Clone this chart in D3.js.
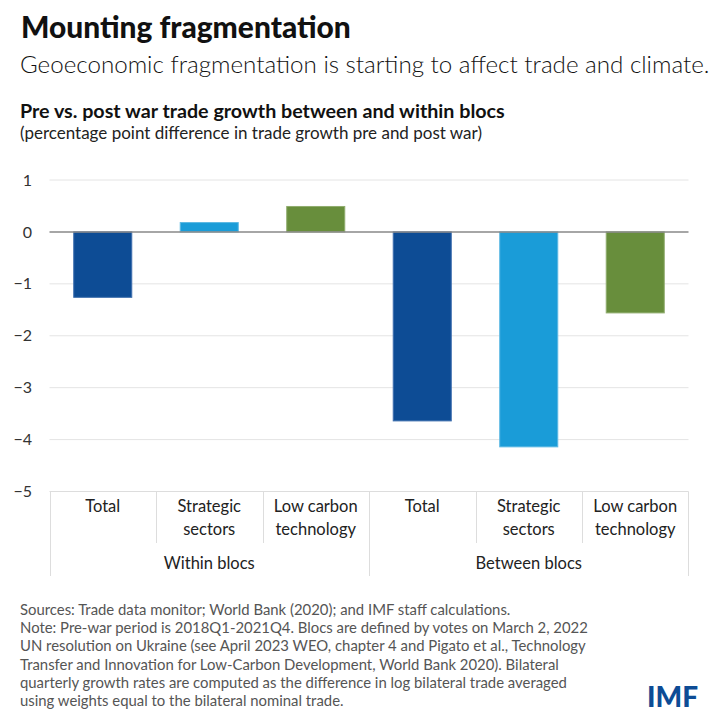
<!DOCTYPE html>
<html>
<head>
<meta charset="utf-8">
<script src="https://cdn.jsdelivr.net/npm/d3@7/dist/d3.min.js"></script>
<style>
  html, body { margin: 0; padding: 0; background: #fff; }
  svg { display: block; }
  text { font-family: Lato, "Open Sans", sans-serif; }
</style>
</head>
<body>
<svg id="chart" width="720" height="722"></svg>
<script>
// ---- data ----
const groups = ["Within blocs", "Between blocs"];
const categories = ["Total", "Strategic sectors", "Low carbon technology"];
const categoryLines = [["Total"], ["Strategic", "sectors"], ["Low carbon", "technology"]];
const withinValues = [-1.26, 0.18, 0.49];
const betweenValues = [-3.64, -4.14, -1.56];
const yTicks = [1, 0, -1, -2, -3, -4, -5];
const colors = ["#0d4c95", "#1a9cd8", "#688e3c"];
const strokeColors = ["#3f6fae", "#5cb8e3", "#90ad6e"];

const title = "Mounting fragmentation";
const subtitle = "Geoeconomic fragmentation is starting to affect trade and climate.";
const chartTitle = "Pre vs. post war trade growth between and within blocs";
const chartSubtitle = "(percentage point difference in trade growth pre and post war)";
const notes = [
  "Sources: Trade data monitor; World Bank (2020); and IMF staff calculations.",
  "Note: Pre-war period is 2018Q1-2021Q4. Blocs are defined by votes on March 2, 2022",
  "UN resolution on Ukraine (see April 2023 WEO, chapter 4 and Pigato et al., Technology",
  "Transfer and Innovation for Low-Carbon Development, World Bank 2020). Bilateral",
  "quarterly growth rates are computed as the difference in log bilateral trade averaged",
  "using weights equal to the bilateral nominal trade."
];

const rows = [];
groups.forEach((g, gi) => {
  const vals = gi === 0 ? withinValues : betweenValues;
  categories.forEach((c, ci) => rows.push({ key: g + "|" + c, group: g, cat: c, ci, value: vals[ci] }));
});

const svg = d3.select("#chart");

// fit text to a target width by adjusting font size
function fit(sel, target) {
  const node = sel.node();
  const w = node.getComputedTextLength();
  const fs = parseFloat(sel.attr("font-size"));
  sel.attr("font-size", (fs * target / w).toFixed(2));
  return sel;
}

// ---- titles ----
fit(svg.append("text").attr("x", 21).attr("y", 38).attr("font-size", 26).attr("font-weight", 900)
  .attr("fill", "#111").text(title), 330);
fit(svg.append("text").attr("x", 20).attr("y", 73).attr("font-size", 21).attr("font-weight", 300)
  .attr("fill", "#111").text(subtitle), 690);
fit(svg.append("text").attr("x", 20).attr("y", 118).attr("font-size", 17).attr("font-weight", 700)
  .attr("fill", "#111").text(chartTitle), 485);
fit(svg.append("text").attr("x", 20).attr("y", 139).attr("font-size", 14).attr("font-weight", 400)
  .attr("fill", "#222").text(chartSubtitle), 462);

// ---- scales ----
const x = d3.scaleBand().domain(rows.map(d => d.key)).range([49.5, 688.5]).paddingInner(0).paddingOuter(0);
const y = d3.scaleLinear().domain([-5, 1]).range([491.5, 180]);

// gridlines
svg.append("g").selectAll("line").data(yTicks.filter(t => t !== 0 && t !== -5)).join("line")
  .attr("x1", 49.5).attr("x2", 688.5)
  .attr("y1", d => y(d)).attr("y2", d => y(d))
  .attr("stroke", "#e4e4e4").attr("stroke-width", 1);

// y axis labels
const yAxis = d3.axisLeft(y).tickValues(yTicks).tickSize(0).tickPadding(0).tickFormat(d3.format("d"));
const yg = svg.append("g").attr("transform", "translate(32,0)").call(yAxis);
yg.select(".domain").remove();
yg.selectAll("text").attr("font-size", 16).attr("fill", "#333").attr("font-family", "Lato, sans-serif")
  .attr("dy", "0.32em").attr("dx", 0);

// bars
const bw = x.bandwidth() * 0.545;
svg.append("g").selectAll("rect").data(rows).join("rect")
  .attr("x", d => x(d.key) + (x.bandwidth() - bw) / 2)
  .attr("width", bw)
  .attr("y", d => y(Math.max(0, d.value)))
  .attr("height", d => Math.abs(y(d.value) - y(0)))
  .attr("fill", d => colors[d.ci])
  .attr("stroke", d => strokeColors[d.ci]).attr("stroke-width", 1);

// zero line
svg.append("line").attr("x1", 49.5).attr("x2", 688.5).attr("y1", y(0)).attr("y2", y(0))
  .attr("stroke", "#888").attr("stroke-width", 1.5);

// ---- multi-level category axis ----
const axisTop = y(-5);
const ax = svg.append("g");
ax.append("line").attr("x1", 49.5).attr("x2", 688.5).attr("y1", axisTop).attr("y2", axisTop)
  .attr("stroke", "#ddd");
rows.forEach(d => {
  const xl = x(d.key);
  const isGroupEdge = d.ci === 0;
  ax.append("line").attr("x1", Math.round(xl) + 0.5).attr("x2", Math.round(xl) + 0.5)
    .attr("y1", axisTop).attr("y2", isGroupEdge ? 576 : 543).attr("stroke", "#ddd");
});
ax.append("line").attr("x1", 688.5).attr("x2", 688.5).attr("y1", axisTop).attr("y2", 576).attr("stroke", "#ddd");

// category labels
rows.forEach(d => {
  const cx = x(d.key) + x.bandwidth() / 2;
  const t = ax.append("text").attr("text-anchor", "middle").attr("font-size", 16.5).attr("fill", "#222");
  categoryLines[d.ci].forEach((ln, li) => {
    t.append("tspan").attr("x", cx).attr("y", 512 + li * 23).text(ln);
  });
});
// group labels
groups.forEach(g => {
  const first = x(g + "|" + categories[0]);
  const last = x(g + "|" + categories[2]) + x.bandwidth();
  ax.append("text").attr("x", (first + last) / 2).attr("y", 569).attr("text-anchor", "middle")
    .attr("font-size", 16.5).attr("fill", "#222").text(g);
});

// ---- notes ----
const nt = svg.append("g");
notes.forEach((n, i) => {
  nt.append("text").attr("x", 20).attr("y", 615 + i * 18.2).attr("font-size", 13.5)
    .attr("fill", "#555").text(n);
});
fit(nt.select("text:nth-child(2)"), 568);
const nfs = nt.select("text:nth-child(2)").attr("font-size");
nt.selectAll("text").attr("font-size", nfs);

// IMF logo
svg.append("text").attr("x", 698).attr("y", 707).attr("text-anchor", "end")
  .attr("font-size", 28).attr("font-weight", 900).attr("fill", "#0d4c95")
  .attr("font-family", "Roboto, Lato, sans-serif").text("IMF");
</script>
</body>
</html>
